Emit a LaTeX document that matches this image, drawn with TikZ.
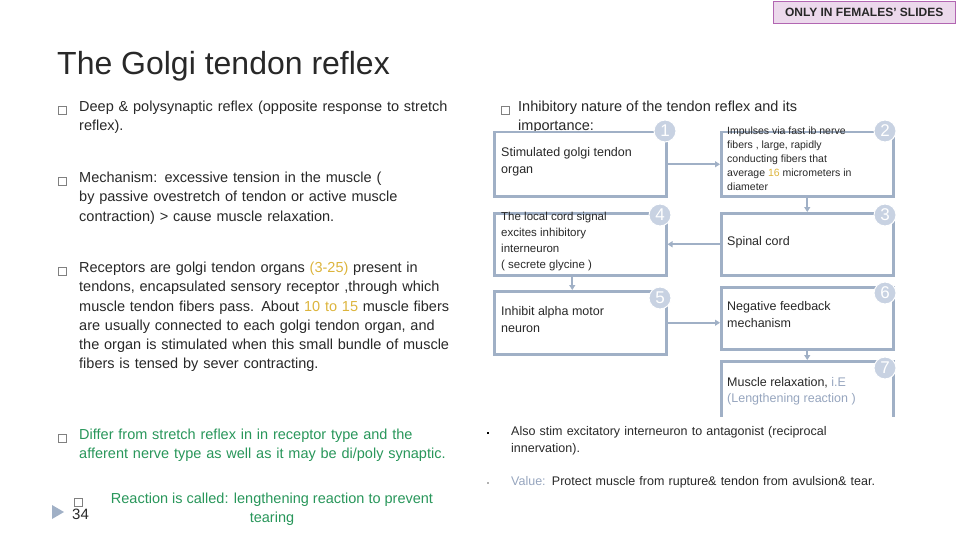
\documentclass[tikz,border=0pt]{standalone}
\usepackage{fontspec}
\setmainfont{Liberation Sans}
\usetikzlibrary{arrows.meta}
\definecolor{bx}{RGB}{160,176,198}
\definecolor{circ}{RGB}{200,210,226}
\definecolor{gtxt}{RGB}{40,150,90}
\definecolor{org}{RGB}{220,180,60}
\definecolor{txt}{RGB}{40,40,40}
\definecolor{lite}{RGB}{150,165,190}
\hyphenpenalty=10000
\exhyphenpenalty=10000
\begin{document}
\begin{tikzpicture}[x=1pt,y=-1pt,
  fbox/.style={draw=bx,line width=2.5pt,anchor=north west,inner sep=0pt},
  num/.style={circle,fill=circ,draw=white,line width=1pt,minimum size=22pt,inner sep=0pt,text=white,font=\fontsize{17}{17}\selectfont},
  btxt/.style={anchor=north west,align=left,text width=#1,font=\fontsize{14.5}{19.2}\selectfont,text=txt,inner sep=0pt},
  ftxt/.style={anchor=north west,align=left,font=\fontsize{12}{14}\selectfont,text=txt,inner sep=0pt},
  sq/.style={draw=gray,line width=0.6pt,minimum size=8pt,inner sep=0pt},
  arr/.style={draw=bx,line width=2pt,-{Triangle[length=5pt,width=6pt]}}]
\useasboundingbox (0,0) rectangle (960,540);
% header tag
\node[draw=violet!60,fill=violet!15,minimum width=182pt,minimum height=22pt,anchor=north west,font=\fontsize{12}{13}\selectfont\bfseries,text=txt] (tag) at (773,1) {ONLY IN FEMALES’ SLIDES};
\node[anchor=west,font=\fontsize{32}{36}\selectfont,text=txt,inner sep=0pt] (title) at (57,66) {The Golgi tendon reflex};
% left bullets
\node[sq] (s1) at (62,110) {};
\node[btxt=375pt] (t1) at (79,101) {Deep \& polysynaptic reflex (opposite response to stretch  reflex).};
\node[sq] (s2) at (62,181) {};
\node[btxt=375pt] (t2) at (79,172) {Mechanism: excessive tension in the muscle ( by passive ovestretch of tendon or active muscle contraction) > cause  muscle relaxation.};
\node[sq] (s3) at (62,271) {};
\node[btxt=378pt] (t3) at (79,262) {Receptors are golgi tendon organs {\color{org}(3-25)} present in tendons, encapsulated sensory receptor ,through which  muscle tendon fibers pass. About {\color{org}10 to 15} muscle fibers are  usually connected to each golgi tendon organ, and the organ  is stimulated when this small bundle of muscle fibers is tensed by sever contracting.};
\node[sq] (s4) at (62,438) {};
\node[btxt=372pt,text=gtxt] (t4) at (79,429) {Differ from stretch reflex in in receptor type and the afferent nerve type as well as it may be di/poly synaptic.};
\node[sq] (s5) at (78,502) {};
\node[anchor=north,align=center,font=\fontsize{14.5}{19}\selectfont,text=gtxt,inner sep=0pt] (t5) at (272,493) {Reaction is called: lengthening reaction to prevent\\tearing};
\fill[bx] (52,505) -- (64,512) -- (52,519) -- cycle;
\node[anchor=west,font=\fontsize{15}{16}\selectfont,text=txt,inner sep=0pt] (pg) at (72,514) {34};
% right heading
\node[sq] (s6) at (505,110) {};
\node[anchor=north west,font=\fontsize{14.5}{19}\selectfont,text=txt,inner sep=0pt] (h) at (518,101) {Inhibitory nature of the tendon reflex and its};
\node[anchor=north west,font=\fontsize{14.5}{19}\selectfont,text=txt,inner sep=0pt] (h2) at (518,120) {importance:};
% boxes
\node[fbox,fill=white,minimum width=172pt,minimum height=64pt] (b1) at (493,131) {};
\node[fbox,minimum width=172pt,minimum height=64pt] (b2) at (720,131) {};
\node[fbox,minimum width=172pt,minimum height=62pt] (b3) at (720,212) {};
\node[fbox,minimum width=172pt,minimum height=62pt] (b4) at (493,212) {};
\node[fbox,minimum width=172pt,minimum height=63pt] (b5) at (493,290) {};
\node[fbox,minimum width=172pt,minimum height=62pt] (b6) at (720,286) {};
\node[fbox,minimum width=172pt,minimum height=62pt] (b7) at (720,360) {};
\fill[white] (716,417) rectangle (896,426);
\node[ftxt,font=\fontsize{12.5}{17}\selectfont] (l1) at (501,147) {Stimulated golgi tendon\\organ};
\node[ftxt,font=\fontsize{10.5}{14}\selectfont] (l2) at (727,127) {Impulses via  fast ib nerve\\fibers , large, rapidly\\conducting  fibers  that\\average {\color{org}16} micrometers in\\diameter};
\node[ftxt,font=\fontsize{12.5}{15}\selectfont] (l3) at (727,236) {Spinal cord};
\node[ftxt,font=\fontsize{11.5}{16}\selectfont] (l4) at (501,212) {The local cord signal\\excites  inhibitory\\interneuron\\( secrete glycine )};
\node[ftxt,font=\fontsize{12.5}{17}\selectfont] (l5) at (501,306) {Inhibit alpha motor\\neuron};
\node[ftxt,font=\fontsize{12.5}{17}\selectfont] (l6) at (727,301) {Negative feedback\\mechanism};
\node[ftxt,font=\fontsize{12.5}{16}\selectfont] (l7) at (727,377) {Muscle relaxation, {\color{lite}i.E}\\{\color{lite}(Lengthening reaction )}};
% numbers
\node[num] (n1) at (665,131) {1};
\node[num] (n2) at (885,131) {2};
\node[num] (n3) at (885,215) {3};
\node[num] (n4) at (660,215) {4};
\node[num] (n5) at (660,298) {5};
\node[num] (n6) at (885,293) {6};
\node[num] (n7) at (885,368) {7};
% arrows
\draw[arr] (b1.east) -- (b2.west);
\draw[arr] (b2.south) -- (b3.north);
\draw[arr] (b3.west) -- (b4.east);
\draw[arr] ([xshift=-8pt]b4.south) -- ([xshift=-8pt]b5.north);
\draw[arr] (b5.east) -- (b5.east -| b6.west);
\draw[arr] (b6.south) -- (b7.north);
% bottom right bullets
\fill[black] (487,432) rectangle (489,434);
\node[btxt=370pt,font=\fontsize{12.5}{17}\selectfont] (r1) at (511,426) {Also stim excitatory interneuron to antagonist (reciprocal innervation).};
\fill[gray!60] (487,482) rectangle (489,484);
\node[btxt=370pt,font=\fontsize{12.5}{17}\selectfont] (r2) at (511,476) {{\color{lite}Value:} Protect muscle from rupture\& tendon from avulsion\& tear.};
\end{tikzpicture}
\end{document}
